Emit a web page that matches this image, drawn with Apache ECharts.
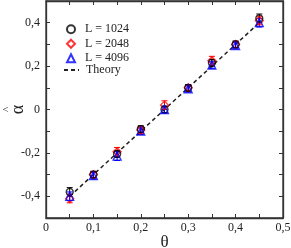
<!DOCTYPE html>
<html><head><meta charset="utf-8">
<script src="https://cdn.jsdelivr.net/npm/echarts@6/dist/echarts.min.js"></script>
<style>html,body{margin:0;padding:0;background:#fff}#c{width:291px;height:248px}</style>
</head><body><div id="c"></div>
<script>
const thetas = [0.05,0.10,0.15,0.20,0.25,0.30,0.35,0.40,0.45];
const L1024 = [-0.38,-0.30,-0.205,-0.09,0.0,0.10,0.215,0.30,0.42];
const L2048 = [-0.41,-0.30,-0.195,-0.095,0.02,0.10,0.225,0.30,0.41];
const L4096 = [-0.40,-0.305,-0.215,-0.10,0.0,0.095,0.205,0.295,0.40];
const err1024 = [0.02,0.015,0.015,0.015,0.015,0.015,0.015,0.015,0.02];
const err2048 = [0.02,0.015,0.02,0.015,0.02,0.015,0.02,0.015,0.02];
const err4096 = [0.02,0.015,0.02,0.015,0.015,0.015,0.015,0.015,0.02];
const theoryX = [0.05,0.45];
const theoryY = [-0.4,0.4];
const yLabels = [-0.4,-0.2,0,0.2,0.4];
const xLabels = [0,0.1,0.2,0.3,0.4,0.5];

const font = 'Liberation Serif';
const fmt = v => (Math.abs(v)<1e-9 ? '0' : (Math.round(v*10)/10).toString().replace('.', ','));

function errSeries(vals, errs, color){
  return {
    type:'custom', silent:true, z:3,
    data: thetas.map((t,i)=>[t, vals[i]-errs[i], vals[i]+errs[i]]),
    renderItem(params, api){
      const lo = api.coord([api.value(0), api.value(1)]);
      const hi = api.coord([api.value(0), api.value(2)]);
      const w = 3;
      const st = {stroke:color, lineWidth:1};
      return {type:'group', children:[
        {type:'line', shape:{x1:lo[0],y1:lo[1],x2:hi[0],y2:hi[1]}, style:st},
        {type:'line', shape:{x1:lo[0]-w,y1:lo[1],x2:lo[0]+w,y2:lo[1]}, style:st},
        {type:'line', shape:{x1:hi[0]-w,y1:hi[1],x2:hi[0]+w,y2:hi[1]}, style:st}
      ]};
    }
  };
}
function pts(name, vals, symbol, color, size){
  return {name, type:'scatter', symbol, symbolSize:size, z:4,
    itemStyle:{color:'transparent', borderColor:color, borderWidth:1.3},
    data: thetas.map((t,i)=>[t, vals[i]])};
}

const axisLine = {show:true, onZero:false, lineStyle:{color:'#333', width:1.3}};
const chart = echarts.init(document.getElementById('c'));
chart.setOption({
  animation:false,
  grid:{left:46, right:8, top:1, bottom:30, show:true, borderColor:'#333', borderWidth:1.3, containLabel:false, outerBoundsMode:'none'},
  legend:[{
    orient:'vertical', left:66, top:22, itemGap:0, itemWidth:8, itemHeight:8, padding:0,
    textStyle:{fontFamily:font, fontSize:12, color:'#222', padding:[0,0,0,5], lineHeight:14.5},
    data:['L = 1024','L = 2048','L = 4096']
  },{
    orient:'vertical', left:63, top:64, itemWidth:15, itemHeight:8, padding:0,
    textStyle:{fontFamily:font, fontSize:12, color:'#222', padding:[0,0,0,2]},
    itemStyle:{opacity:0},
    data:['Theory']
  }],
  xAxis:[
    {type:'value', min:0, max:0.5, interval:0.05, position:'bottom',
     name:'θ', nameLocation:'middle', nameGap:16, nameMoveOverlap:false,
     nameTextStyle:{fontFamily:font, fontSize:17, color:'#222'},
     axisLine, splitLine:{show:false},
     axisTick:{inside:true, length:4, lineStyle:{color:'#333'}, customValues:[0,0.05,0.1,0.15,0.2,0.25,0.3,0.35,0.4,0.45,0.5]},
     axisLabel:{customValues:xLabels, formatter:fmt, fontFamily:font, fontSize:12, color:'#222', margin:4}},
    {type:'value', min:0, max:0.5, interval:0.05, position:'top',
     axisLine, splitLine:{show:false},
     axisTick:{inside:true, length:4, lineStyle:{color:'#333'}},
     axisLabel:{show:false}}
  ],
  yAxis:[
    {type:'value', min:-0.5, max:0.5, interval:0.1, position:'left',
     name:'{h|^}\n{a|α}', nameLocation:'middle', nameGap:20, nameRotate:90, nameMoveOverlap:false,
     nameTextStyle:{fontFamily:font, fontSize:17, color:'#222', rich:{
       h:{fontFamily:font, fontSize:11, lineHeight:6, color:'#222'},
       a:{fontFamily:font, fontSize:18, lineHeight:16, color:'#222'}}},
     axisLine, splitLine:{show:false},
     axisTick:{inside:true, length:4, lineStyle:{color:'#333'}, customValues:[-0.4,-0.3,-0.2,-0.1,0,0.1,0.2,0.3,0.4]},
     axisLabel:{customValues:yLabels, formatter:fmt, fontFamily:font, fontSize:12, color:'#222', margin:6}},
    {type:'value', min:-0.5, max:0.5, interval:0.1, position:'right',
     axisLine, splitLine:{show:false},
     axisTick:{inside:true, length:4, lineStyle:{color:'#333'}, customValues:[-0.4,-0.3,-0.2,-0.1,0,0.1,0.2,0.3,0.4]},
     axisLabel:{show:false}}
  ],
  series:[
    {name:'Theory', type:'line', symbol:'none', z:2,
     lineStyle:{color:'#222', width:1.5, type:[4,3]}, itemStyle:{color:'#222'},
     data: theoryX.map((x,i)=>[x, theoryY[i]])},
    errSeries(L2048, err2048, '#ff0000'),
    errSeries(L1024, err1024, '#000000'),
    errSeries(L4096, err4096, '#0000ff'),
    pts('L = 2048', L2048, 'diamond', '#ff0000', 8),
    pts('L = 1024', L1024, 'circle', '#000000', 7),
    pts('L = 4096', L4096, 'triangle', '#0000ff', 8)
  ]
});
</script></body></html>
